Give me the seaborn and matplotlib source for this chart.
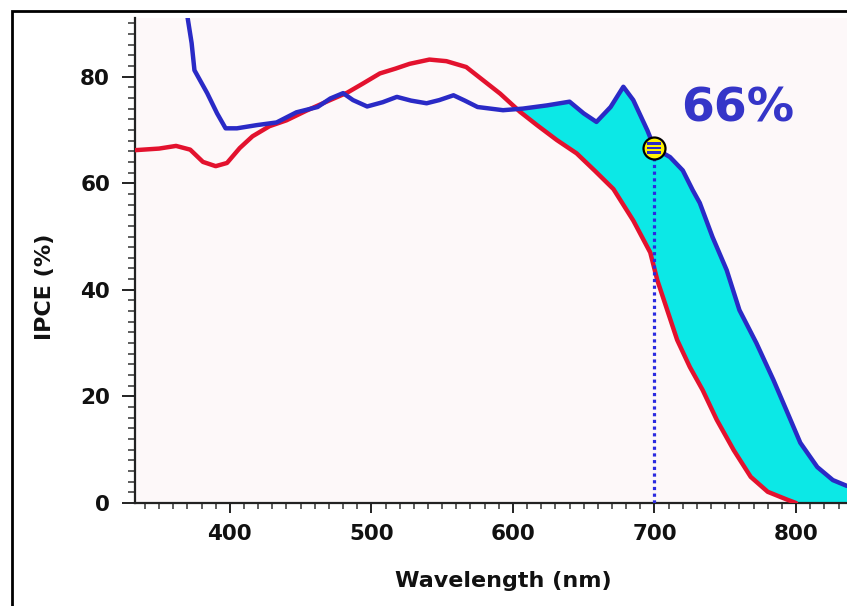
import numpy as np
import matplotlib
matplotlib.use("Agg")
import matplotlib.pyplot as plt
from matplotlib.patches import Rectangle
from matplotlib.ticker import MultipleLocator
import seaborn as sns

# red curve (wavelength nm, IPCE %)
red_nm = [333, 350, 362, 372, 381, 390, 398, 407, 416, 428, 440, 454, 470, 483,
          494, 506, 517, 527, 541, 553, 567, 579, 591, 605, 617, 631, 645, 658,
          671, 685, 697, 702, 709, 716, 725, 734, 744, 756, 768, 780, 794, 800]
red_ipce = [66.2, 66.5, 67.0, 66.3, 64.0, 63.2, 63.8, 66.6, 68.8, 70.7, 71.8, 73.6,
            75.5, 77.0, 78.7, 80.6, 81.5, 82.4, 83.2, 82.9, 81.8, 79.3, 76.8, 73.4,
            70.9, 68.1, 65.6, 62.3, 58.9, 53.0, 47.0, 41.8, 36.2, 30.6, 25.5, 21.2,
            15.6, 9.9, 4.9, 2.1, 0.6, 0.0]

# blue curve
blue_nm = [369, 373, 375, 384, 391, 397, 405, 419, 433, 447, 462, 471, 480, 487,
           497, 508, 518, 528, 539, 548, 558, 566, 575, 593, 607, 624, 640, 650,
           659, 669, 678, 685, 695, 700, 711, 720, 727, 732, 741, 751, 760, 772,
           784, 794, 803, 815, 826, 836]
blue_ipce = [93.0, 86.3, 81.2, 76.9, 73.1, 70.3, 70.3, 70.9, 71.4, 73.3, 74.3, 75.9,
             76.9, 75.6, 74.4, 75.2, 76.2, 75.5, 75.0, 75.6, 76.5, 75.5, 74.3, 73.7,
             74.0, 74.6, 75.3, 73.1, 71.5, 74.3, 78.1, 75.6, 69.9, 66.6, 64.9, 62.4,
             58.7, 56.3, 49.9, 43.7, 36.2, 30.0, 23.1, 16.9, 11.3, 6.75, 4.3, 3.2]

marker_nm = 700
marker_ipce = 66.6
marker_text = "66%"
fill_from_nm = 600

x_ticks = [400, 500, 600, 700, 800]
y_ticks = [0, 20, 40, 60, 80]

RED = "#e3122e"
BLUE = "#2a2ac6"
DOT_BLUE = "#2b2be0"
CYAN = "#0ce8e6"
TEXT_BLUE = "#3535c8"

sns.set_theme(style="ticks")
plt.rcParams["font.family"] = ["DejaVu Sans"]
plt.rcParams["font.weight"] = "bold"

fig = plt.figure(figsize=(8.47, 6.06), dpi=100)
fig.patch.set_facecolor("white")
ax = fig.add_axes([135 / 847, 103 / 606, 712 / 847, 485 / 606])
ax.set_facecolor("#fdf8f9")

# cyan band between the two curves
grid = np.union1d(blue_nm, red_nm)
grid = grid[grid >= fill_from_nm]
b = np.interp(grid, blue_nm, blue_ipce)
r = np.interp(grid, red_nm, red_ipce, right=0)
ax.fill_between(grid, r, b, where=b >= r, interpolate=True, color=CYAN, lw=0, zorder=1)

line_kw = dict(sort=False, lw=3.2, ax=ax, zorder=3,
               solid_joinstyle="round", solid_capstyle="round")
sns.lineplot(x=red_nm, y=red_ipce, color=RED, **line_kw)
sns.lineplot(x=blue_nm, y=blue_ipce, color=BLUE, **line_kw)

# dotted drop line + marker
ax.vlines(marker_nm, 0, marker_ipce, colors=DOT_BLUE, linestyles=(0, (1, 1.1)), lw=2.3, zorder=4)
ax.scatter([marker_nm], [marker_ipce], s=250, c="#fff200", edgecolors="black",
           linewidths=1.6, zorder=5)
ax.scatter([marker_nm], [marker_ipce], s=90, marker="$\\equiv$", c=BLUE, lw=0, zorder=6)
ax.annotate(marker_text, xy=(marker_nm, marker_ipce), xytext=(60, 28),
            textcoords="offset points", ha="center", va="center",
            fontsize=34, fontweight="bold", color=TEXT_BLUE)

ax.set_xlim(333, 836)
ax.set_ylim(0, 91)
ax.set_xticks(x_ticks)
ax.set_yticks(y_ticks)
ax.xaxis.set_minor_locator(MultipleLocator(10))
ax.yaxis.set_minor_locator(MultipleLocator(2))
ax.tick_params(axis="y", which="major", length=9.5, width=1.3, pad=8.5, labelsize=15.5, colors="#111")
ax.tick_params(axis="y", which="minor", length=5, width=1.1, colors="#333")
ax.tick_params(axis="x", which="major", length=7, width=1.3, pad=8, labelsize=15.5, colors="#111")
ax.tick_params(axis="x", which="minor", length=4.5, width=1.1, colors="#333")

for s in ["top", "right"]:
    ax.spines[s].set_visible(False)
for s in ["left", "bottom"]:
    ax.spines[s].set_linewidth(1.6)
    ax.spines[s].set_color("#222")

ax.set_xlabel("Wavelength (nm)", fontsize=16, fontweight="bold", color="#111")
ax.set_ylabel("IPCE (%)", fontsize=16, fontweight="bold", color="#111")
ax.xaxis.set_label_coords(0.517, -0.14)
ax.yaxis.set_label_coords(-0.112, 0.445)

# partial black frame of the original image
fig.add_artist(Rectangle((12 / 847, -0.05), 1.0, 1 - 11 / 606 + 0.05,
                         transform=fig.transFigure, fill=False, lw=2, ec="black",
                         clip_on=False))

fig.savefig("out.png", dpi=100)
